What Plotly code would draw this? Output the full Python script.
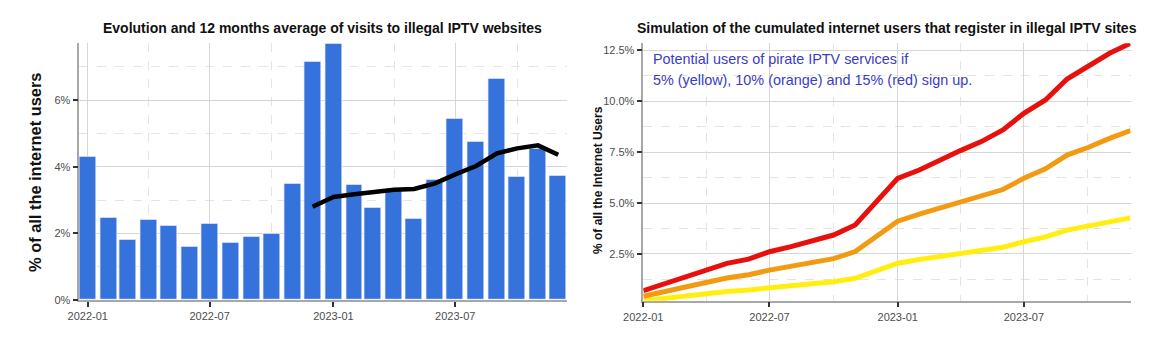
import plotly.graph_objects as go

# ---------------- data ----------------
months = ["2022-01-01", "2022-02-01", "2022-03-01", "2022-04-01", "2022-05-01", "2022-06-01",
          "2022-07-01", "2022-08-01", "2022-09-01", "2022-10-01", "2022-11-01", "2022-12-01",
          "2023-01-01", "2023-02-01", "2023-03-01", "2023-04-01", "2023-05-01", "2023-06-01",
          "2023-07-01", "2023-08-01", "2023-09-01", "2023-10-01", "2023-11-01", "2023-12-01"]

visits = [4.29, 2.48, 1.82, 2.41, 2.23, 1.61, 2.28, 1.73, 1.90, 1.98, 3.49, 7.16,
          7.70, 3.46, 2.76, 3.30, 2.44, 3.60, 5.45, 4.74, 6.63, 3.71, 4.55, 3.73]

avg_months = months[11:]
avg12 = [2.80, 3.09, 3.17, 3.25, 3.31, 3.33, 3.50, 3.77, 4.02, 4.40, 4.55, 4.64, 4.36]

sim_yellow = [0.21, 0.34, 0.43, 0.55, 0.66, 0.74, 0.86, 0.94, 1.04, 1.14, 1.31, 1.67,
              2.05, 2.23, 2.37, 2.53, 2.65, 2.83, 3.10, 3.34, 3.67, 3.86, 4.09, 4.27]
sim_orange = [0.43, 0.68, 0.86, 1.10, 1.32, 1.48, 1.71, 1.89, 2.08, 2.27, 2.62, 3.34,
              4.11, 4.45, 4.73, 5.06, 5.30, 5.66, 6.21, 6.68, 7.35, 7.72, 8.17, 8.55]
sim_red = [0.70, 1.06, 1.36, 1.72, 2.04, 2.25, 2.61, 2.86, 3.15, 3.43, 3.92, 5.03,
           6.21, 6.62, 7.08, 7.57, 8.01, 8.58, 9.40, 10.05, 11.08, 11.68, 12.34, 12.83]

x_tickvals = ["2022-01-01", "2022-07-01", "2023-01-01", "2023-07-01"]
x_ticktext = ["2022-01", "2022-07", "2023-01", "2023-07"]
x_minor = ["2022-04-01", "2022-10-01", "2023-04-01", "2023-10-01"]

left_yticks = [0, 2, 4, 6]
left_ytext = ["0%", "2%", "4%", "6%"]
left_yminor = [1, 3, 5, 7]

right_yticks = [2.5, 5.0, 7.5, 10.0, 12.5]
right_ytext = ["2.5%", "5.0%", "7.5%", "10.0%", "12.5%"]
right_yminor = [1.25, 3.75, 6.25, 8.75, 11.25]

# ---------------- style ----------------
W, H = 1175, 354
FONT = "Liberation Sans, Arial, sans-serif"
BAR = "#3672dc"
TICKFONT = dict(family=FONT, size=11, color="#4d4d4d")
GRID = "#d6d6d6"
MINOR = "#e4e4e4"
DAY_MS = 86400000
BAR_W = 25.2 * DAY_MS

def px_x(p):
    return p / W

def px_y(p):
    return 1 - p / H

fig = go.Figure()

fig.add_trace(go.Bar(x=months, y=visits, width=BAR_W,
                     marker=dict(color=BAR, line=dict(color="white", width=0.8)),
                     xaxis="x", yaxis="y", showlegend=False))
fig.add_trace(go.Scatter(x=avg_months, y=avg12, mode="lines",
                         line=dict(color="black", width=4.5),
                         xaxis="x", yaxis="y", showlegend=False))

for vals, col in [(sim_yellow, "#ffee10"), (sim_orange, "#f29b12"), (sim_red, "#e8100c")]:
    fig.add_trace(go.Scatter(x=months, y=vals, mode="lines",
                             line=dict(color=col, width=5),
                             xaxis="x2", yaxis="y2", showlegend=False))

def xaxis_common(domain, rng, anchor):
    return dict(domain=domain, type="date", range=rng, anchor=anchor, automargin=False,
                tickmode="array", tickvals=x_tickvals, ticktext=x_ticktext,
                ticks="outside", ticklen=5, tickwidth=2, tickcolor="#333333",
                tickfont=TICKFONT, showline=True, linecolor="#a8a8a8", linewidth=1.5,
                showgrid=True, gridcolor=GRID, gridwidth=1, zeroline=False,
                minor=dict(tickvals=x_minor, showgrid=True, gridcolor=MINOR,
                           griddash="dash", gridwidth=1, ticks=""))

def yaxis_common(domain, rng, anchor, tv, tt, minor):
    return dict(domain=domain, range=rng, anchor=anchor, automargin=False,
                tickmode="array", tickvals=tv, ticktext=tt,
                ticks="outside", ticklen=5, tickwidth=2, tickcolor="#333333",
                tickfont=TICKFONT, showline=True, linecolor="#a8a8a8", linewidth=1.5,
                showgrid=True, gridcolor=GRID, gridwidth=1, zeroline=False,
                minor=dict(tickvals=minor, showgrid=True, gridcolor=MINOR,
                           griddash="dash", gridwidth=1, ticks=""))

fig.update_layout(
    width=W, height=H, autosize=False,
    margin=dict(l=0, r=0, t=0, b=0, pad=0, autoexpand=False),
    paper_bgcolor="white", plot_bgcolor="white",
    font=dict(family=FONT),
    bargap=0,
    xaxis=xaxis_common([px_x(79.3), px_x(566.7)],
                       ["2021-12-19 09:36", "2023-12-13 14:24"], "y"),
    yaxis=yaxis_common([px_y(300), px_y(42.7)], [0, 7.72], "x",
                       left_yticks, left_ytext, left_yminor),
    xaxis2=xaxis_common([px_x(643.3), px_x(1130.5)],
                        ["2022-01-01", "2023-12-01"], "y2"),
    yaxis2=yaxis_common([px_y(300.7), px_y(43.3)], [0.21, 12.83], "x2",
                        right_yticks, right_ytext, right_yminor),
)

annotations = [
    dict(text="<b>Evolution and 12 months average of visits to illegal IPTV websites</b>",
         x=px_x(323), y=px_y(28), font=dict(size=14, color="#111111", family=FONT)),
    dict(text="<b>Simulation of the cumulated internet users that register in illegal IPTV sites</b>",
         x=px_x(887), y=px_y(28), font=dict(size=14, color="#111111", family=FONT)),
    dict(text="<b>% of all the internet users</b>", textangle=-90,
         x=px_x(35), y=px_y(173), font=dict(size=16.4, color="#111111", family=FONT)),
    dict(text="<b>% of all the Internet Users</b>", textangle=-90,
         x=px_x(598), y=px_y(180), font=dict(size=12, color="#111111", family=FONT)),
    dict(text="Potential users of pirate IPTV services if",
         x=px_x(650.5), y=px_y(59), xanchor="left",
         font=dict(size=14.4, color="#3b3bc4", family=FONT)),
    dict(text="5% (yellow), 10% (orange) and 15% (red) sign up.",
         x=px_x(650.5), y=px_y(79.5), xanchor="left",
         font=dict(size=14.4, color="#3b3bc4", family=FONT)),
]
for a in annotations:
    a.setdefault("xanchor", "center")
    a.update(xref="paper", yref="paper", yanchor="middle", showarrow=False)
fig.update_layout(annotations=annotations)

fig.write_html("out.html")
